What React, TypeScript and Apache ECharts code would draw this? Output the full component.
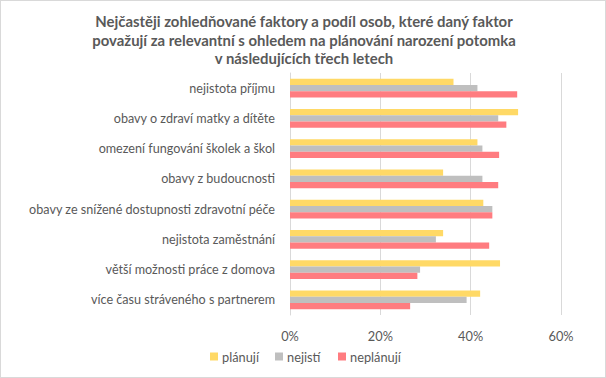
import React, { useEffect, useRef } from "react";
import * as echarts from "echarts";

const categories = [
  "nejistota příjmu",
  "obavy o zdraví matky a dítěte",
  "omezení fungování školek a škol",
  "obavy z budoucnosti",
  "obavy ze snížené dostupnosti zdravotní péče",
  "nejistota zaměstnání",
  "větší možnosti práce z domova",
  "více času stráveného s partnerem",
];

const planuji = [36.2, 50.5, 41.5, 33.9, 42.8, 33.9, 46.5, 42.1];
const nejisti = [41.5, 46.1, 42.6, 42.6, 44.8, 32.3, 28.8, 39.1];
const neplanuji = [50.3, 47.9, 46.3, 46.1, 44.8, 44.1, 28.2, 26.6];

const seriesNames = ["plánují", "nejistí", "neplánují"];
const seriesColors = ["#FFD966", "#BFBFBF", "#FF7C80"];
const xTicks = [0, 20, 40, 60];

const FONT = "Lato";
const TEXT = "#595959";
const legendLefts = [209, 274, 337];

export default function App() {
  const ref = useRef<HTMLDivElement>(null);
  useEffect(() => {
    document.body.style.margin = "0";
    const chart = echarts.init(ref.current!, undefined, { renderer: "svg" });
    const values = [planuji, nejisti, neplanuji];
    chart.setOption({
      animation: false,
      backgroundColor: "#fff",
      textStyle: { fontFamily: FONT },
      title: {
        text:
          "Nejčastěji zohledňované faktory a podíl osob, které daný faktor\npovažují za relevantní s ohledem na plánování narození potomka\nv následujících třech letech",
        left: 303,
        textAlign: "center",
        top: 11,
        padding: 0,
        textStyle: {
          fontFamily: FONT,
          fontSize: 14.9,
          fontWeight: "bold",
          color: TEXT,
          lineHeight: 18.5,
        },
      },
      legend: seriesNames.map((n, i) => ({
        data: [n],
        left: legendLefts[i],
        top: 349,
        padding: 0,
        itemWidth: 8,
        itemHeight: 8,
        itemGap: 0,
        icon: "rect",
        textStyle: { fontFamily: FONT, fontSize: 12.8, color: TEXT, padding: [0, 0, 0, -1] },
      })),
      grid: { left: 289, right: 44, top: 72, bottom: 62, containLabel: false },
      xAxis: {
        type: "value",
        min: 0,
        max: 60,
        interval: 20,
        axisLabel: {
          formatter: (v: number) => (xTicks.includes(v) ? v + "%" : ""),
          fontFamily: FONT,
          fontSize: 12.8,
          color: TEXT,
          margin: 14,
        },
        axisLine: { show: false },
        axisTick: { show: false },
        splitLine: { lineStyle: { color: "#d9d9d9", width: 1 } },
      },
      yAxis: {
        type: "category",
        data: categories,
        inverse: true,
        axisLabel: { fontFamily: FONT, fontSize: 12.6, color: TEXT, margin: 15 },
        axisLine: { lineStyle: { color: "#d9d9d9" } },
        axisTick: { show: false },
      },
      series: seriesNames.map((n, i) => ({
        name: n,
        type: "bar",
        data: values[i],
        barGap: "0%",
        barCategoryGap: "38%",
        itemStyle: { color: seriesColors[i] },
      })),
    });
    return () => chart.dispose();
  }, []);
  return (
    <div
      ref={ref}
      style={{
        position: "absolute",
        left: 0,
        top: 0,
        width: 606,
        height: 378,
        boxSizing: "border-box",
        border: "1px solid #d9d9d9",
      }}
    />
  );
}
